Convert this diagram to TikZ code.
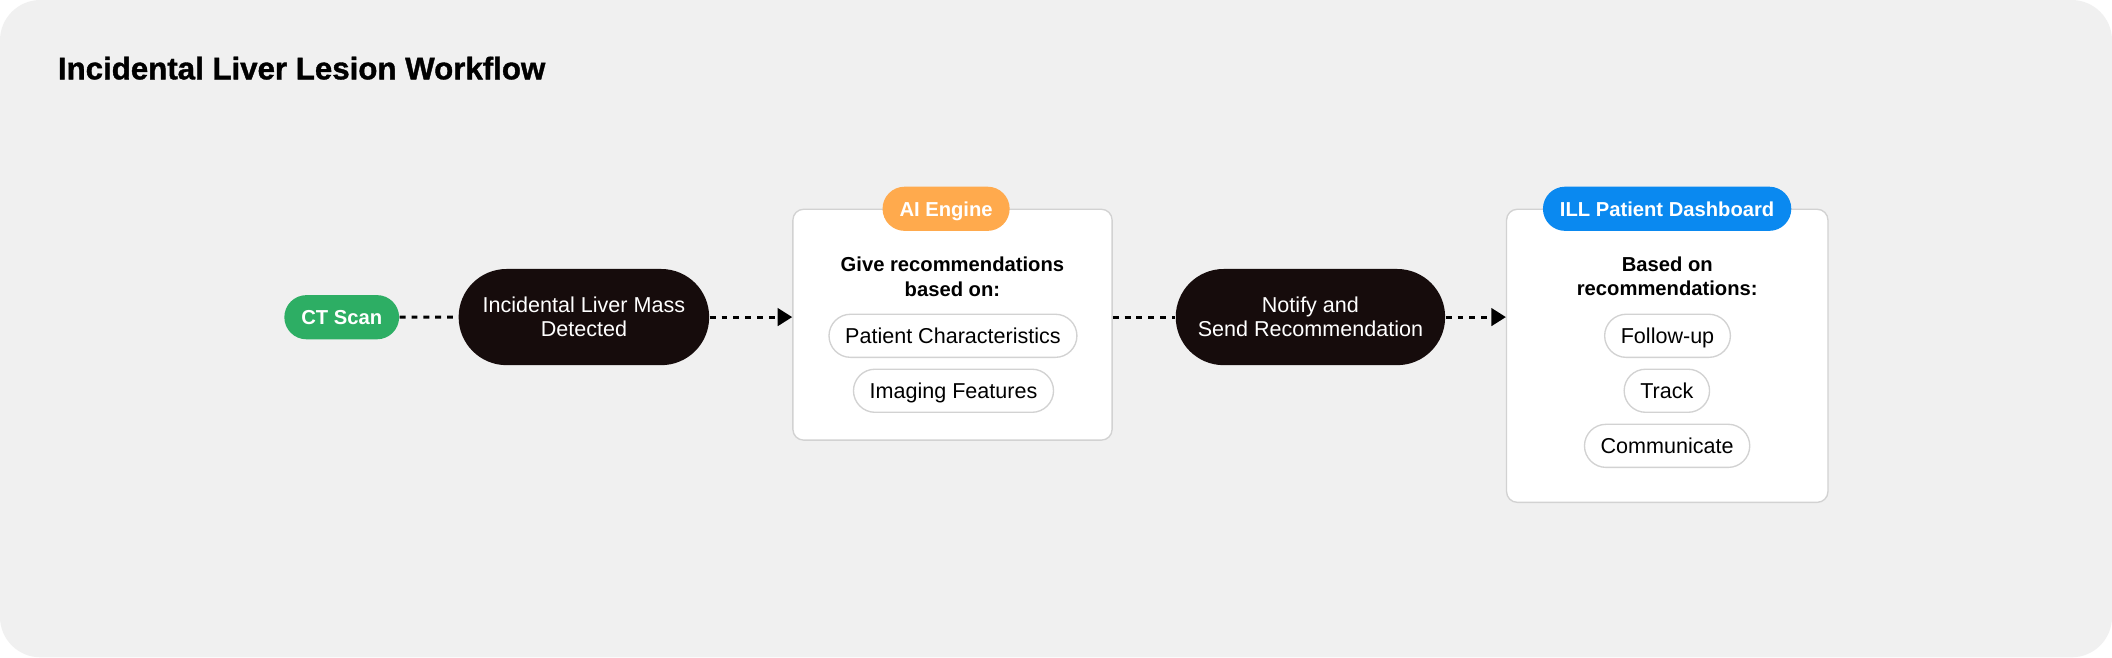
\documentclass[tikz,border=0pt]{standalone}
\usepackage{fontspec}
\setmainfont{Liberation Sans}
\newfontfamily\heavyfont[FakeBold=1.2]{Liberation Sans Bold}
\usetikzlibrary{arrows.meta}
\definecolor{bggrey}{HTML}{F0F0F0}
\definecolor{edgegrey}{HTML}{D2D2D2}
\definecolor{darkpill}{HTML}{160C0C}
\definecolor{scangreen}{HTML}{2DAE64}
\definecolor{engineorange}{HTML}{FFAA4D}
\definecolor{dashblue}{HTML}{0A89F0}

\begin{document}
\begin{tikzpicture}[x=0.5pt,y=-0.5pt,
  every node/.style={font=\fontsize{8}{9}\selectfont},
  tag/.style={fill=#1,text=white,rounded corners=8.2pt,minimum height=16.4pt,
    inner xsep=6.3pt,inner ysep=0pt,text height=5.7pt,text depth=0pt,
    font=\fontsize{7.5}{9}\selectfont\bfseries},
  choice/.style={draw=edgegrey,line width=0.5pt,fill=white,rounded corners=8pt,
    minimum height=16pt,inner xsep=6pt,inner ysep=0pt,text height=5.7pt,text depth=0pt},
  stage/.style={fill=darkpill,text=white,rounded corners=17.8pt,minimum height=35.7pt,
    minimum width=#1,align=center,inner sep=0pt},
  panel/.style={draw=edgegrey,line width=0.5pt,fill=white,rounded corners=4pt,inner sep=0pt},
  heading/.style={align=center,font=\fontsize{7.5}{9}\selectfont\bfseries},
  link/.style={line width=1.1pt,dash pattern=on 2.2pt off 2.2pt}]
  \useasboundingbox (0,0) rectangle (1568,488);
  \fill[white] (0,0) rectangle (1568,488);
  \fill[bggrey,rounded corners=15pt] (0,0) rectangle (1568,488);

  \node[anchor=base west,inner sep=0pt,font=\fontsize{11.6}{13}\selectfont\heavyfont] (title)
    at (42.6,58.9) {Incidental Liver Lesion Workflow};

  \node[tag=scangreen] (ct) at (253.7,235.5) {CT Scan};
  \node[stage=93pt] (mass) at (433.5,235.4) {Incidental Liver Mass\\Detected};

  \node[panel,minimum width=118.5pt,minimum height=85.7pt] (ai) at (707.15,241.05) {};
  \node[tag=engineorange] (aitag) at (702.4,155) {AI Engine};
  \node[heading] (aitext) at (707.1,205.4) {Give recommendations\\based on:};
  \node[choice] (traits) at (707.5,249.3) {Patient Characteristics};
  \node[choice] (imaging) at (707.9,290.1) {Imaging Features};

  \node[stage=100pt] (notify) at (972.9,235.4) {Notify and\\Send Recommendation};

  \node[panel,minimum width=119.3pt,minimum height=108.8pt] (dash) at (1237.8,264.15) {};
  \node[tag=dashblue] (dashtag) at (1237.7,155) {ILL Patient Dashboard};
  \node[heading] (dashtext) at (1237.8,205.2) {Based on\\recommendations:};
  \node[choice] (follow) at (1238,249.3) {Follow-up};
  \node[choice] (track) at (1237.5,290.1) {Track};
  \node[choice] (comm) at (1237.7,331) {Communicate};

  \draw[link] (ct.east) -- (mass.west);
  \draw[link,-{Triangle[length=5.4pt,width=6.5pt]}] (mass.east) -- (mass.east -| ai.west);
  \draw[link] (ai.east |- notify.west) -- (notify.west);
  \draw[link,-{Triangle[length=5.4pt,width=6.5pt]}] (notify.east) -- (notify.east -| dash.west);
\end{tikzpicture}
\end{document}
